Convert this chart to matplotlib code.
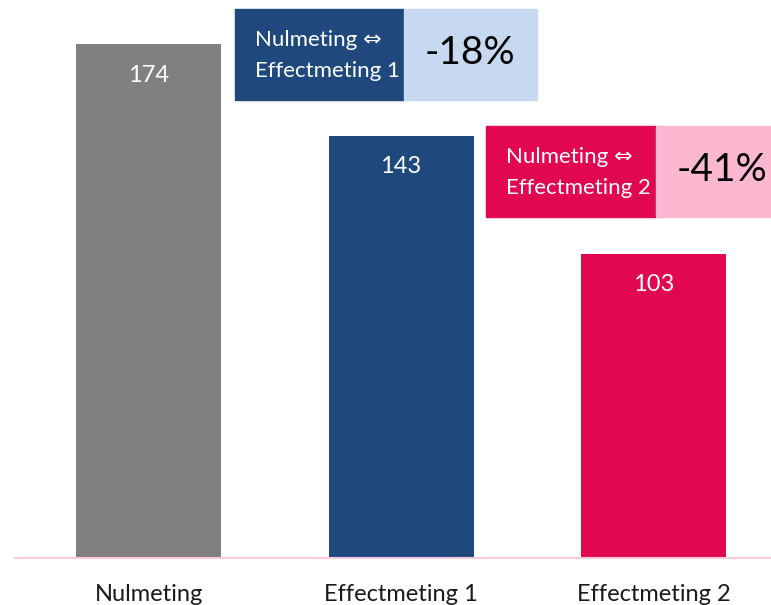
import matplotlib

matplotlib.use("Agg")
from matplotlib import pyplot as plt
from matplotlib.patches import Rectangle

plt.rcParams["font.family"] = ["Lato", "DejaVu Sans"]

categories = ["Nulmeting", "Effectmeting 1", "Effectmeting 2"]
values = [174, 143, 103]
bar_colors = ["#808080", "#1F497D", "#E20751"]
box_light = ["#C6D9F0", "#FBB8D0"]

fig = plt.figure(figsize=(7.71, 6.05), dpi=100)
ax = fig.add_axes([15 / 771, 47 / 605, 756 / 771, 558 / 605])

x = range(len(categories))
ax.bar(x, values, width=0.574, color=bar_colors, zorder=2)
ax.set_xlim(-0.529, 2.465)
ax.set_ylim(0, 188.9)

for i, v in zip(x, values):
    ax.text(i, v - 10.5, str(v), ha="center", va="center", color="white", fontsize=17)

# callouts comparing each effectmeting with the nulmeting
callouts = [
    # (index, x0, x_split, x1, y0, y1)
    (1, 0.343, 1.012, 1.538, 155.0, 185.8),
    (2, 1.337, 2.010, 2.60, 115.4, 146.2),
]
for k, (i, x0, xs, x1, y0, y1) in enumerate(callouts):
    ax.add_patch(Rectangle((x0, y0), xs - x0, y1 - y0, color=bar_colors[i],
                           zorder=3, clip_on=False))
    ax.add_patch(Rectangle((xs, y0), x1 - xs, y1 - y0, color=box_light[k],
                           zorder=3, clip_on=False))
    ax.text(x0 + 0.08, (y0 + y1) / 2 - 0.3, f"Nulmeting \u21d4\nEffectmeting {i}",
            ha="left", va="center", color="white", fontsize=16,
            linespacing=1.65, zorder=4)
    pct = round((values[i] - values[0]) / values[0] * 100)
    ax.text(xs + 0.08, (y0 + y1) / 2 + 0.5, f"{pct}%", ha="left", va="center",
            color="black", fontsize=28, zorder=4)

ax.set_xticks(list(x))
ax.set_xticklabels(categories, fontsize=17, color="#1a1a1a")
ax.tick_params(axis="x", length=0, pad=19)
ax.set_yticks([])
for side in ["top", "right", "left"]:
    ax.spines[side].set_visible(False)
ax.spines["bottom"].set_color("#F8CCDA")
ax.spines["bottom"].set_linewidth(1.5)

fig.savefig("out.png", dpi=100)
